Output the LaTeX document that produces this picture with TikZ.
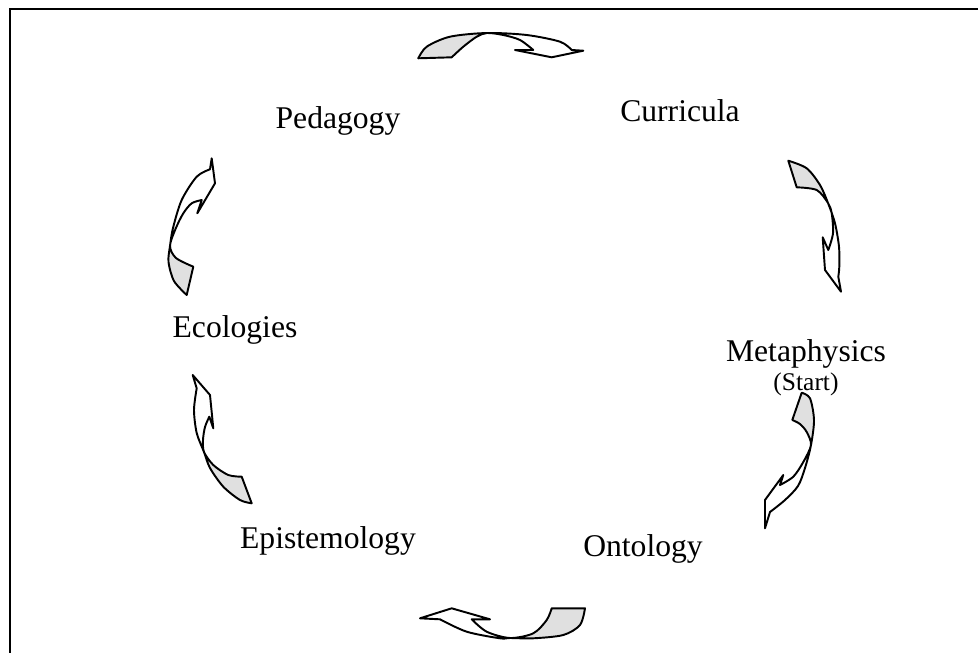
\documentclass[tikz,border=0pt]{standalone}
\usepackage{fontspec}
\setmainfont{Liberation Serif}
\begin{document}
\begin{tikzpicture}[
  x=0.02cm, y=-0.02cm,
  stage/.style={font=\fontsize{18}{20}\selectfont, anchor=base, inner sep=0pt},
  band/.style={draw=black, line width=1.1pt, line join=round},
  under/.style={fill=black!12},
]
\useasboundingbox (0,0) rectangle (978,653);

%% Frame (cut off at right and bottom)
\draw[line width=1.2pt] (978,9) -- (10,9) -- (10,653);

%% Stages
\node[stage] (ped) at (338,128) {Pedagogy};
\node[stage] (cur) at (680,121) {Curricula};
\node[stage] (met) at (806,361) {Metaphysics};
\node[stage, font=\fontsize{14.5}{17}\selectfont] (sta) at (806,390) {(Start)};
\node[stage] (ont) at (643,556) {Ontology};
\node[stage] (epi) at (328,548) {Epistemology};
\node[stage] (eco) at (235,337) {Ecologies};

%% Pedagogy -> Curricula
\fill[under] plot[smooth] coordinates {(418.3,58.3) (426.7,46.7) (450,36.7) (487,33)}
  -- plot[smooth] coordinates {(487,33) (476.7,36.7) (463.3,46.7) (451.7,57.3)} -- cycle;
\draw[band] plot[smooth] coordinates {(418.3,58.3) (426.7,46.7) (450,36.7) (487,33) (526.7,35) (560,41.7) (571.7,50)}
  -- (583.3,50.7) -- (551.7,57.3) -- (515,50) -- (533.3,50)
  -- plot[smooth] coordinates {(533.3,50) (520,40) (503.3,35) (487,33) (476.7,36.7) (463.3,46.7) (451.7,57.3)} -- cycle;

%% Curricula -> Metaphysics
\fill[under] plot[smooth] coordinates {(788.3,160.7) (806.7,168.3) (820,185) (828,203)}
  -- plot[smooth] coordinates {(828,203) (816.7,190) (796.7,187.3)} -- cycle;
\draw[band] plot[smooth] coordinates {(788.3,160.7) (806.7,168.3) (820,185) (828,203) (835,223.3) (839,246.7) (839.3,266.7) (838.3,276.7)}
  -- (841,291.7) -- (825,270) -- (822.7,237.3) -- (828.3,250)
  -- plot[smooth] coordinates {(828.3,250) (833,233.3) (831.7,213.3) (828,203) (816.7,190) (796.7,187.3)} -- cycle;

%% Metaphysics -> Ontology
\fill[under] plot[smooth] coordinates {(801.7,392.7) (810,398.3) (814,420) (811,445)}
  -- plot[smooth] coordinates {(811,445) (806.7,432) (800,424) (792.3,420)} -- cycle;
\draw[band] plot[smooth] coordinates {(801.7,392.7) (810,398.3) (814,420) (811,445) (805,468) (798,486) (785,500) (770,512)}
  -- (765,528.3) -- (765,500) -- (783.3,475) -- (780,485)
  -- plot[smooth] coordinates {(780,485) (793.3,476.7) (803.3,462) (811,445) (806.7,432) (800,424) (792.3,420)} -- cycle;

%% Ontology -> Epistemology
\fill[under] plot[smooth] coordinates {(585,608.3) (580,625) (563.3,635) (533.3,638.3) (510,638)}
  -- plot[smooth] coordinates {(510,638) (533.3,633.3) (546.7,620) (551.7,608.3)} -- cycle;
\draw[band] plot[smooth] coordinates {(585,608.3) (580,625) (563.3,635) (533.3,638.3) (510,638) (500,638.3) (466.7,631.7) (440,619.3)}
  -- (420,618.3) -- (451.7,608.3) -- (490,619.3) -- (471.7,619.3)
  -- plot[smooth] coordinates {(471.7,619.3) (486.7,631.7) (510,638) (533.3,633.3) (546.7,620) (551.7,608.3)} -- cycle;

%% Epistemology -> Ecologies
\fill[under] plot[smooth] coordinates {(251.7,503.3) (240,500) (223.3,486.7) (210,468) (204,452)}
  -- plot[smooth] coordinates {(204,452) (213.3,465) (228.3,475) (241.7,476.7)} -- cycle;
\draw[band] plot[smooth] coordinates {(251.7,503.3) (240,500) (223.3,486.7) (210,468) (204,452) (196.7,433) (194,410) (196.7,388.3)}
  -- (192.7,375) -- (210,395) -- (213.3,428.3) -- (209.3,416.7)
  -- plot[smooth] coordinates {(209.3,416.7) (205,427) (203,440) (204,452) (213.3,465) (228.3,475) (241.7,476.7)} -- cycle;

%% Ecologies -> Pedagogy
\fill[under] plot[smooth] coordinates {(186.7,295) (174,281) (168.5,262) (170,246)}
  -- plot[smooth] coordinates {(170,246) (176,258) (193.3,266.7)} -- cycle;
\draw[band] plot[smooth] coordinates {(186.7,295) (174,281) (168.5,262) (170,246) (173,228) (181.7,200) (196.7,176.7) (210,169.3)}
  -- (211.7,158.3) -- (215,183.3) -- (197.3,213.3) -- (201.7,200)
  -- plot[smooth] coordinates {(201.7,200) (191.7,203.3) (183.3,213.3) (175.5,229) (170,246) (176,258) (193.3,266.7)} -- cycle;

\end{tikzpicture}
\end{document}
